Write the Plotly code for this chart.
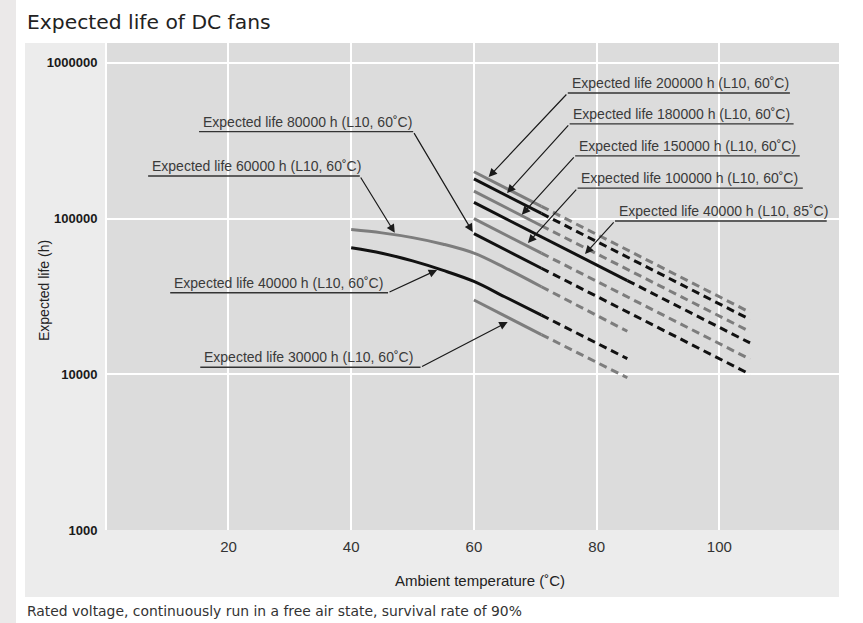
import math
import plotly.graph_objects as go

# ---------------------------------------------------------------------------
# Data: expected life (h) vs ambient temperature (°C)
# Solid segment = guaranteed range, dashed segment = extrapolated range
# ---------------------------------------------------------------------------
temps_60 = [60, 71, 105]          # start, end of solid, end of dashed
life_200k = [200000, 120000, 25000]
life_180k = [180000, 108000, 22500]
life_150k = [150000, 90000, 18800]
life_100k = [100000, 60000, 12500]
life_80k = [80000, 48000, 10000]

temps_85 = [60, 85, 105]
life_40k_85 = [127000, 40000, 15900]

temps_short = [60, 71, 85]
life_30k = [30000, 18000, 9500]

temps_curve = [40, 45, 50, 55, 60, 65, 71]
life_60k_curve = [85000, 81000, 75500, 68500, 60000, 48500, 36500]
life_40k_curve = [65000, 60000, 53500, 46500, 39500, 31500, 24000]
temps_curve_ext = [71, 85]
life_60k_ext = [36500, 18900]
life_40k_ext = [24000, 12600]

x_ticks = [20, 40, 60, 80, 100]
y_ticks = [1000, 10000, 100000, 1000000]
y_tick_text = ["1000", "10000", "100000", "1000000"]

GRAY = "#7d7d7d"
BLACK = "#111111"
TXT = "#3a3a3a"

# figure geometry (pixels)
W, H = 863, 623
ML, MR, MT, MB = 107, 24, 43, 93
PW, PH = W - ML - MR, H - MT - MB


def px_x(px):
    return (px - ML) / PW


def px_y(py):
    return (H - MB - py) / PH


fig = go.Figure()


def add_series(temps, lives, color, split, shape="linear"):
    """Solid part up to index `split`, dashed from there on."""
    fig.add_trace(go.Scatter(
        x=temps[:split + 1], y=lives[:split + 1], mode="lines",
        line=dict(color=color, width=3, shape=shape, smoothing=1.0),
        hoverinfo="skip", showlegend=False, cliponaxis=False))
    fig.add_trace(go.Scatter(
        x=temps[split:], y=lives[split:], mode="lines",
        line=dict(color=color, width=3, dash="8px,5px"),
        hoverinfo="skip", showlegend=False, cliponaxis=False))


add_series(temps_60, life_200k, GRAY, 1)
add_series(temps_60, life_180k, BLACK, 1)
add_series(temps_60, life_150k, GRAY, 1)
add_series(temps_85, life_40k_85, BLACK, 1)
add_series(temps_60, life_100k, GRAY, 1)
add_series(temps_60, life_80k, BLACK, 1)
add_series(temps_curve + temps_curve_ext[1:], life_60k_curve + life_60k_ext[1:],
           GRAY, len(temps_curve) - 1, shape="spline")
add_series(temps_curve + temps_curve_ext[1:], life_40k_curve + life_40k_ext[1:],
           BLACK, len(temps_curve) - 1, shape="spline")
add_series(temps_short, life_30k, GRAY, 1)

# ---------------------------------------------------------------------------
# Callout labels: text, underline span (°C), underline level (h),
# arrow tip (°C, h), side of the underline that the leader leaves from
# ---------------------------------------------------------------------------
callouts = [
    ("Expected life 200000 h (L10, 60˚C)", 75.3, 111.5, 641000, 62.4, 185000, "left"),
    ("Expected life 180000 h (L10, 60˚C)", 75.6, 112.1, 406000, 65.4, 146000, "left"),
    ("Expected life 150000 h (L10, 60˚C)", 76.5, 113.1, 253000, 67.8, 106000, "left"),
    ("Expected life 100000 h (L10, 60˚C)", 76.9, 113.6, 157000, 68.8, 69800, "left"),
    ("Expected life 40000 h (L10, 85˚C)", 83.0, 117.5, 96600, 78.1, 59300, "left"),
    ("Expected life 80000 h (L10, 60˚C)", 15.2, 50.1, 362000, 59.8, 82000, "right"),
    ("Expected life 60000 h (L10, 60˚C)", 6.9, 41.4, 188000, 47.1, 81000, "right"),
    ("Expected life 40000 h (L10, 60˚C)", 10.5, 46.0, 33400, 54.0, 46800, "right"),
    ("Expected life 30000 h (L10, 60˚C)", 15.4, 51.3, 11100, 65.5, 21700, "right"),
]

annotations = []
for text, x0, x1, yl, tx, ty, side in callouts:
    fig.add_trace(go.Scatter(
        x=[x0, x1], y=[yl, yl], mode="lines",
        line=dict(color="#333333", width=1.4),
        hoverinfo="skip", showlegend=False, cliponaxis=False))
    annotations.append(dict(
        x=x0 + 0.3, y=math.log10(yl), xref="x", yref="y",
        text=text, showarrow=False, xanchor="left", yanchor="bottom",
        yshift=0, font=dict(family="Liberation Sans, Arial", size=14, color=TXT)))
    ex = x0 if side == "left" else x1
    annotations.append(dict(
        x=tx, y=math.log10(ty), xref="x", yref="y",
        ax=ex, ay=math.log10(yl), axref="x", ayref="y",
        text="", showarrow=True, arrowhead=2, arrowsize=1.4,
        arrowwidth=1.2, arrowcolor="#1a1a1a", standoff=0, startstandoff=0))

# axis / figure titles
annotations += [
    dict(x=px_x(25), y=px_y(22), xref="paper", yref="paper",
         text="Expected life of DC fans", showarrow=False,
         xanchor="left", yanchor="middle",
         font=dict(family="DejaVu Sans", size=20.3, color="#222222")),
    dict(x=px_x(480), y=px_y(580), xref="paper", yref="paper",
         text="Ambient temperature (˚C)", showarrow=False,
         xanchor="center", yanchor="middle",
         font=dict(family="Liberation Sans, Arial", size=15, color="#222222")),
    dict(x=px_x(44), y=px_y(291), xref="paper", yref="paper",
         text="Expected life (h)", showarrow=False, textangle=-90,
         xanchor="center", yanchor="middle",
         font=dict(family="Liberation Sans, Arial", size=14, color="#222222")),
    dict(x=px_x(25), y=px_y(611), xref="paper", yref="paper",
         text="Rated voltage, continuously run in a free air state, survival rate of 90%",
         showarrow=False, xanchor="left", yanchor="middle",
         font=dict(family="DejaVu Sans", size=13.9, color="#333333")),
]

shapes = [
    # light panel around the plotting area
    dict(type="rect", xref="paper", yref="paper", layer="below",
         x0=px_x(25), x1=px_x(839), y0=px_y(597), y1=px_y(43),
         fillcolor="#ececec", line=dict(width=0)),
    # plotting area background
    dict(type="rect", xref="paper", yref="paper", layer="below",
         x0=0, x1=1, y0=0, y1=1,
         fillcolor="#dcdcdc", line=dict(width=0)),
    # page edge on the left
    dict(type="rect", xref="paper", yref="paper", layer="below",
         x0=px_x(0), x1=px_x(16), y0=px_y(H), y1=px_y(0),
         fillcolor="#ebe9e9", line=dict(width=0)),
]

fig.update_layout(
    width=W, height=H,
    margin=dict(l=ML, r=MR, t=MT, b=MB, pad=0),
    paper_bgcolor="white", plot_bgcolor="#dcdcdc",
    showlegend=False,
    annotations=annotations, shapes=shapes,
    xaxis=dict(range=[0.2, 119.5], tickvals=x_ticks, showgrid=True,
               gridcolor="white", gridwidth=2, zeroline=False,
               showline=False, ticks="", ticklabelstandoff=6,
               tickfont=dict(family="Liberation Sans, Arial", size=15, color="#333333")),
    yaxis=dict(type="log", range=[3, 6.128], tickvals=y_ticks, ticktext=y_tick_text,
               showgrid=True, gridcolor="white", gridwidth=2, zeroline=False,
               showline=True, linecolor="white", linewidth=2, ticks="",
               ticklabelstandoff=5,
               tickfont=dict(family="Liberation Sans, Arial", size=13,
                             color="#1a1a1a", weight="bold")),
)

fig.write_html("out.html")
